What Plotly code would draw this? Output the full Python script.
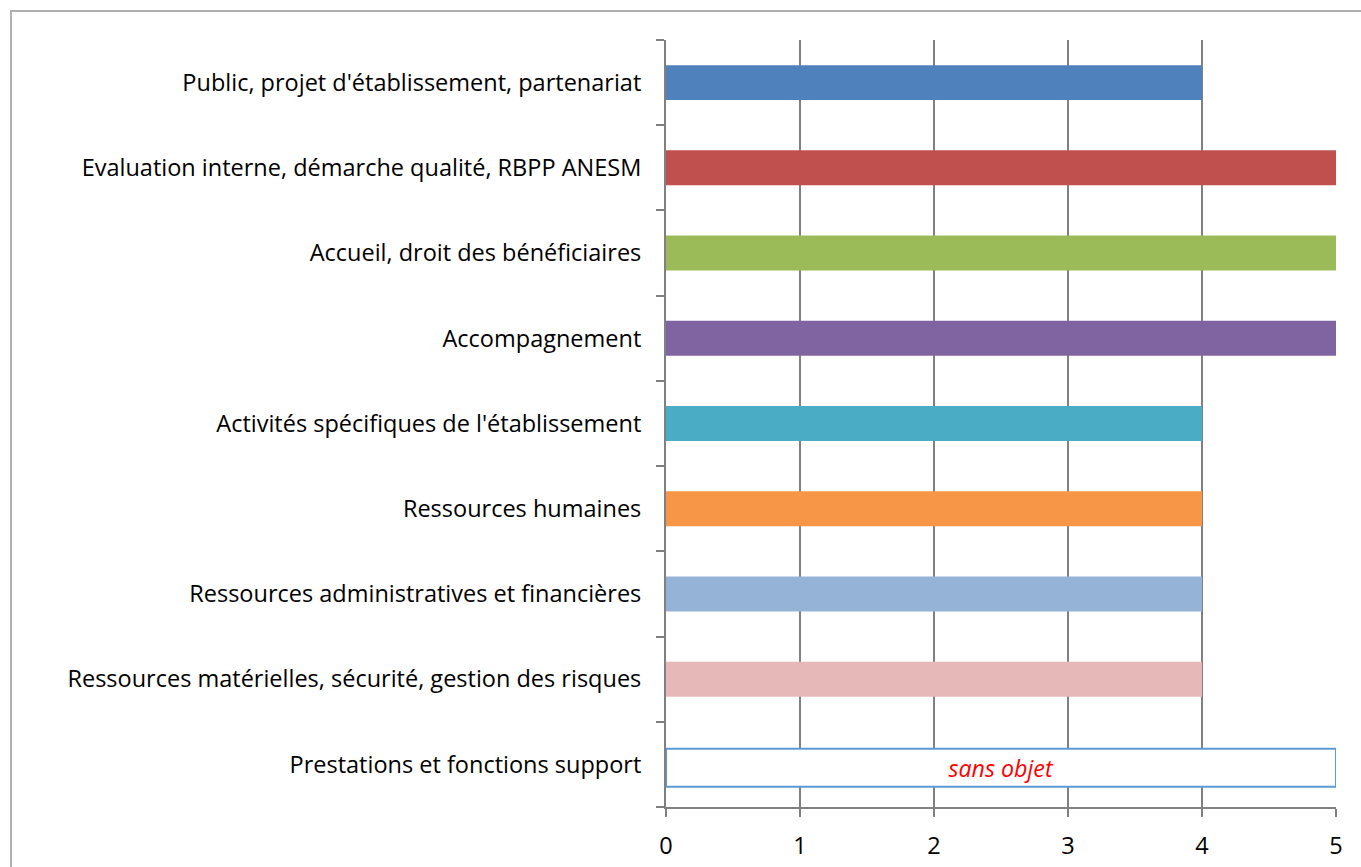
import plotly.graph_objects as go

categories = [
    "Public, projet d'établissement, partenariat",
    "Evaluation interne, démarche qualité, RBPP ANESM",
    "Accueil, droit des bénéficiaires",
    "Accompagnement",
    "Activités spécifiques de l'établissement",
    "Ressources humaines",
    "Ressources administratives et financières",
    "Ressources matérielles, sécurité, gestion des risques",
    "Prestations et fonctions support",
]
values = [4, 5, 5, 5, 4, 4, 4, 4, 5]
colors = ["#4F81BD", "#C0504D", "#9BBB59", "#8064A2", "#4BACC6",
          "#F79646", "#95B3D7", "#E6B9B8", "#FFFFFF"]
line_colors = ["rgba(0,0,0,0)"] * 8 + ["#5B9BD5"]
line_widths = [0] * 8 + [2]
bar_text = [""] * 8 + ["sans objet"]
x_ticks = [0, 1, 2, 3, 4, 5]

W, H = 1361, 867
ml, mr, mt, mb = 666, 25, 40, 60
FONT = "Open Sans"

bar_w = [0.41] * 8 + [0.445]
bar_off = [-0.205] * 8 + [-0.262]

fig = go.Figure(go.Bar(
    y=categories, x=values, orientation="h",
    marker=dict(color=colors, line=dict(color=line_colors, width=line_widths)),
    width=bar_w, offset=bar_off,
    text=bar_text, textposition="inside", insidetextanchor="middle",
    textfont=dict(color="#FF0000", size=24, family=FONT, style="italic"),
    textangle=0,
    hoverinfo="x+y",
))

pw = W - ml - mr
ph = H - mt - mb
fig.add_shape(type="rect", xref="paper", yref="paper",
              x0=(11 - ml) / pw, x1=(W + 20 - ml) / pw,
              y0=-(H + 20 - mt - ph) / ph, y1=1 + (mt - 11) / ph,
              line=dict(color="#B0B0B0", width=2), fillcolor="rgba(0,0,0,0)",
              layer="below")

fig.update_layout(
    width=W, height=H,
    margin=dict(l=ml, r=mr, t=mt, b=mb),
    paper_bgcolor="white", plot_bgcolor="white",
    showlegend=False,
    uniformtext=dict(mode=False),
    font=dict(family=FONT, size=23.5, color="#000000"),
    xaxis=dict(range=[0, 5], tickvals=x_ticks, showgrid=True,
               gridcolor="#808080", gridwidth=2,
               showline=True, linecolor="#808080", linewidth=2,
               ticks="outside", ticklen=8, tickwidth=2, tickcolor="#808080",
               zeroline=False, fixedrange=True, ticklabelstandoff=9,
               automargin=False),
    yaxis=dict(categoryorder="array", categoryarray=categories[::-1],
               range=[-0.5, 8.5],
               showline=True, linecolor="#808080", linewidth=2,
               ticks="outside", ticklen=8, tickwidth=2, tickcolor="#808080",
               tickson="boundaries", showgrid=False, ticklabelstandoff=18,
               fixedrange=True, automargin=False),
)

fig.write_html("out.html")
